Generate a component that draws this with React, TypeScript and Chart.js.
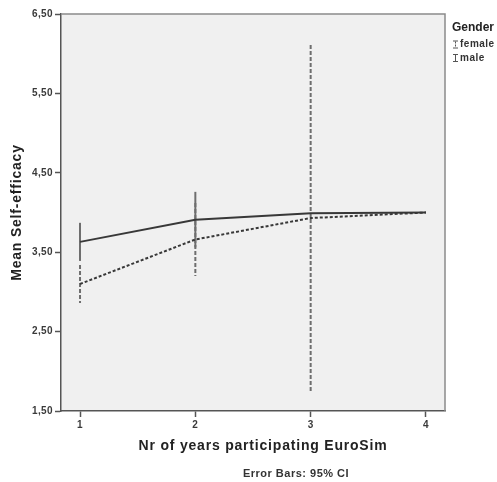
import React, { useEffect, useRef } from "react";
import { Chart, registerables } from "chart.js";

Chart.register(...registerables);

const years = [1, 2, 3, 4];
const yTicks = [1.5, 2.5, 3.5, 4.5, 5.5, 6.5];

const femaleMean = [3.1, 3.66, 3.93, 4.0];
const femaleLow: (number | null)[] = [2.86, 3.2, 1.74, null];
const femaleHigh: (number | null)[] = [3.34, 4.12, 6.11, null];

const maleMean = [3.63, 3.91, 3.99, 4.0];
const maleLow: (number | null)[] = [3.39, 3.56, null, null];
const maleHigh: (number | null)[] = [3.87, 4.26, null, null];

const legendTitle = "Gender";
const legendLabels = ["female", "male"];
const xTitle = "Nr of years participating EuroSim";
const yTitle = "Mean Self-efficacy";
const footnote = "Error Bars: 95% CI";

const FONT = "'Liberation Sans', Arial, sans-serif";
const LINE = "#383838";
const BAR = "#6e6e6e";
const FEMALE_DASH = [3, 2];
const BAR_DASH = [4, 2];

const decor = {
  id: "decor",
  beforeDraw(chart: any) {
    const { ctx, chartArea: a } = chart;
    ctx.save();
    ctx.fillStyle = "#f0f0f0";
    ctx.fillRect(a.left, a.top, a.right - a.left, a.bottom - a.top);
    ctx.restore();
    (ctx as any).letterSpacing = "0.4px";
  },
  beforeDatasetsDraw(chart: any) {
    const { ctx } = chart;
    const xs = chart.scales.x;
    const ys = chart.scales.y;
    const drawBars = (lo: (number | null)[], hi: (number | null)[], dash: number[]) => {
      ctx.save();
      ctx.strokeStyle = BAR;
      ctx.lineWidth = 2;
      ctx.setLineDash(dash);
      years.forEach((yr, i) => {
        const l = lo[i];
        const h = hi[i];
        if (l == null || h == null) return;
        const px = xs.getPixelForValue(yr);
        ctx.beginPath();
        ctx.moveTo(px, ys.getPixelForValue(h));
        ctx.lineTo(px, ys.getPixelForValue(l));
        ctx.stroke();
      });
      ctx.restore();
    };
    drawBars(femaleLow, femaleHigh, BAR_DASH);
    drawBars(maleLow, maleHigh, []);
  },
  afterDraw(chart: any) {
    const { ctx, chartArea: a } = chart;
    ctx.save();
    ctx.strokeStyle = "#8a8a8a";
    ctx.lineWidth = 1.5;
    ctx.beginPath();
    ctx.moveTo(a.left, a.top);
    ctx.lineTo(a.right, a.top);
    ctx.lineTo(a.right, a.bottom);
    ctx.stroke();

    ctx.fillStyle = "#222";
    ctx.textAlign = "center";
    ctx.textBaseline = "middle";
    ctx.letterSpacing = "0.8px";
    ctx.font = `bold 14px ${FONT}`;
    ctx.fillText(xTitle, 263, 446);

    ctx.save();
    ctx.translate(17, (a.top + a.bottom) / 2);
    ctx.rotate(-Math.PI / 2);
    ctx.fillText(yTitle, 0, 0);
    ctx.restore();

    ctx.letterSpacing = "0.5px";
    ctx.font = `bold 11px ${FONT}`;
    ctx.fillStyle = "#333";
    ctx.fillText(footnote, 296, 474);

    ctx.textAlign = "left";
    ctx.fillStyle = "#222";
    ctx.letterSpacing = "0px";
    ctx.font = `bold 12px ${FONT}`;
    ctx.fillText(legendTitle, 452, 28);
    ctx.letterSpacing = "0.5px";
    ctx.font = `bold 10px ${FONT}`;
    ctx.fillStyle = "#333";
    const rows = [44.5, 58];
    legendLabels.forEach((lab, i) => {
      const cy = rows[i];
      ctx.fillText(lab, 460, cy);
      ctx.strokeStyle = "#555";
      ctx.lineWidth = 1;
      ctx.setLineDash(i === 0 ? [2, 1] : []);
      ctx.beginPath();
      ctx.moveTo(455.5, cy - 3);
      ctx.lineTo(455.5, cy + 3);
      ctx.stroke();
      ctx.setLineDash([]);
      ctx.beginPath();
      ctx.moveTo(453, cy - 3.5);
      ctx.lineTo(458, cy - 3.5);
      ctx.moveTo(453, cy + 3.5);
      ctx.lineTo(458, cy + 3.5);
      ctx.stroke();
    });
    ctx.restore();
  },
};

export default function App() {
  const ref = useRef<HTMLCanvasElement>(null);
  useEffect(() => {
    if (!ref.current) return;
    const chart = new Chart(ref.current, {
      type: "scatter",
      data: {
        datasets: [
          {
            label: legendLabels[0],
            data: years.map((x, i) => ({ x, y: femaleMean[i] })),
            showLine: true,
            borderColor: LINE,
            borderWidth: 2,
            borderDash: FEMALE_DASH,
            pointRadius: 0,
          },
          {
            label: legendLabels[1],
            data: years.map((x, i) => ({ x, y: maleMean[i] })),
            showLine: true,
            borderColor: LINE,
            borderWidth: 2,
            pointRadius: 0,
          },
        ],
      },
      options: {
        responsive: false,
        animation: false,
        layout: { padding: { left: 0, top: 14, right: 52, bottom: 0 } },
        plugins: { legend: { display: false }, tooltip: { enabled: false } },
        scales: {
          x: {
            type: "linear",
            min: 0.835,
            max: 4.165,
            afterBuildTicks: (s: any) => {
              s.ticks = years.map((v) => ({ value: v }));
            },
            afterFit: (s: any) => {
              s.height = 71;
            },
            grid: {
              drawOnChartArea: false,
              drawTicks: true,
              tickLength: 6,
              tickWidth: 1.5,
              tickColor: "#555",
            },
            border: { display: true, color: "#555", width: 1.5 },
            ticks: {
              padding: 2,
              color: "#3a3a3a",
              font: { family: FONT, size: 10, weight: "bold" },
              callback: (v: any) => String(v),
            },
          },
          y: {
            type: "linear",
            min: 1.5,
            max: 6.5,
            afterBuildTicks: (s: any) => {
              s.ticks = yTicks.map((v) => ({ value: v }));
            },
            afterFit: (s: any) => {
              s.width = 61;
            },
            grid: {
              drawOnChartArea: false,
              drawTicks: true,
              tickLength: 6,
              tickWidth: 1.5,
              tickColor: "#555",
            },
            border: { display: true, color: "#555", width: 1.5 },
            ticks: {
              padding: 2,
              color: "#3a3a3a",
              font: { family: FONT, size: 10, weight: "bold" },
              callback: (v: any) => Number(v).toFixed(2).replace(".", ","),
            },
          },
        },
      },
      plugins: [decor],
    } as any);
    return () => chart.destroy();
  }, []);
  return (
    <canvas
      ref={ref}
      width={497}
      height={482}
      style={{ position: "fixed", left: 0, top: 0, width: 497, height: 482 }}
    />
  );
}
